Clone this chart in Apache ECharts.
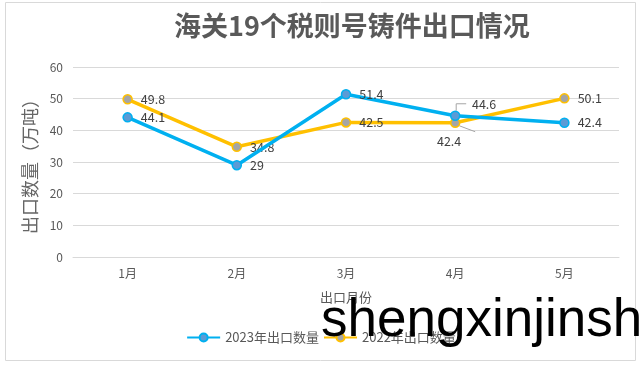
<!DOCTYPE html>
<html><head><meta charset="utf-8">
<script src="https://cdn.jsdelivr.net/npm/echarts@6/dist/echarts.min.js"></script>
<style>html,body{margin:0;padding:0;background:#fff}#c{width:642px;height:365px}</style>
</head><body><div id="c"></div>
<script>
var categories = ['1月','2月','3月','4月','5月'];
var data2023 = [44.1, 29, 51.4, 44.6, 42.4];
var data2022 = [49.8, 34.8, 42.5, 42.4, 50.1];
var yTicks = [0, 60, 10];
var seriesNames = ['2023年出口数量', '2022年出口数量'];

var FONT = '"Noto Sans CJK SC", "Noto Sans", sans-serif';
var chart = echarts.init(document.getElementById('c'));

function lbl(d, special) {
  var o = { value: d };
  if (special) o.label = special;
  return o;
}

var baseGraphic = [
  { type: 'rect', shape: { x: 5.5, y: 2.5, width: 630, height: 358 },
    style: { fill: 'none', stroke: '#d9d9d9', lineWidth: 1 }, silent: true },
  { type: 'text', left: 321, top: 295, z: 100,
    style: { text: 'shengxinjinsh', font: '53px "Liberation Sans", Arial, sans-serif', fill: '#000' } }
];

chart.setOption({
  animation: false,
  textStyle: { fontFamily: FONT },
  title: {
    text: '海关19个税则号铸件出口情况',
    left: 169, top: 7,
    textStyle: { fontFamily: FONT, fontSize: 27, fontWeight: 'bold', color: '#595959' }
  },
  graphic: baseGraphic,
  legend: {
    bottom: 16, left: 'center', itemGap: 4, itemWidth: 33, itemHeight: 10,
    textStyle: { fontFamily: FONT, fontSize: 13, color: '#595959' },
    data: seriesNames
  },
  grid: { left: 73, right: 23, top: 67, bottom: 108 },
  xAxis: {
    type: 'category', data: categories, boundaryGap: true,
    name: '出口月份', nameLocation: 'middle', nameGap: 34,
    nameTextStyle: { fontFamily: FONT, fontSize: 13, color: '#595959' },
    axisLine: { show: true, lineStyle: { color: '#d9d9d9' } },
    axisTick: { show: false },
    axisLabel: { fontFamily: FONT, fontSize: 12, color: '#595959', margin: 10 }
  },
  yAxis: {
    type: 'value', min: yTicks[0], max: yTicks[1], interval: yTicks[2],
    name: '出口数量（万吨）', nameLocation: 'middle', nameGap: 29, nameRotate: 90,
    nameTextStyle: { fontFamily: FONT, fontSize: 18, color: '#666666' },
    axisLine: { show: false }, axisTick: { show: false },
    axisLabel: { fontFamily: FONT, fontSize: 12, color: '#595959', margin: 10 },
    splitLine: { lineStyle: { color: '#d9d9d9' } }
  },
  series: [
    {
      name: seriesNames[0], type: 'line',
      data: data2023.map(function (d, i) {
        return lbl(d, i === 3 ? { position: [22, -13] } : null);
      }),
      symbol: 'circle', symbolSize: 9,
      lineStyle: { color: '#00B0F0', width: 3.5 },
      itemStyle: { color: '#5B9BD5', borderColor: '#00B0F0', borderWidth: 1.5 },
      label: { show: true, position: 'right', distance: 8, fontFamily: FONT, fontSize: 12.5, color: '#404040' },
      z: 3
    },
    {
      name: seriesNames[1], type: 'line',
      data: data2022.map(function (d, i) {
        return lbl(d, i === 3 ? { position: [-13, 18] } : null);
      }),
      symbol: 'circle', symbolSize: 9,
      lineStyle: { color: '#FFC000', width: 3.5 },
      itemStyle: { color: '#A5A5A5', borderColor: '#FFC000', borderWidth: 1.5 },
      label: { show: true, position: 'right', distance: 8, fontFamily: FONT, fontSize: 12.5, color: '#404040' },
      z: 2
    }
  ]
});

// leader lines for the 4月 labels (positioned from the axis scales)
function leaders() {
  var p23 = chart.convertToPixel({ seriesIndex: 0 }, [3, data2023[3]]);
  var p22 = chart.convertToPixel({ seriesIndex: 1 }, [3, data2022[3]]);
  chart.setOption({
    graphic: baseGraphic.concat([
      { type: 'polyline', z: 1, shape: { points: [[p23[0] + 1, p23[1] - 5], [p23[0] + 1, p23[1] - 12], [p23[0] + 11, p23[1] - 12]] },
        style: { stroke: '#a6a6a6', lineWidth: 1, fill: 'none' } },
      { type: 'polyline', z: 1, shape: { points: [[p22[0] + 4, p22[1] + 3], [p22[0] + 20, p22[1] + 9]] },
        style: { stroke: '#a6a6a6', lineWidth: 1, fill: 'none' } }
    ])
  }, { replaceMerge: ['graphic'] });
}
leaders();
</script></body></html>
